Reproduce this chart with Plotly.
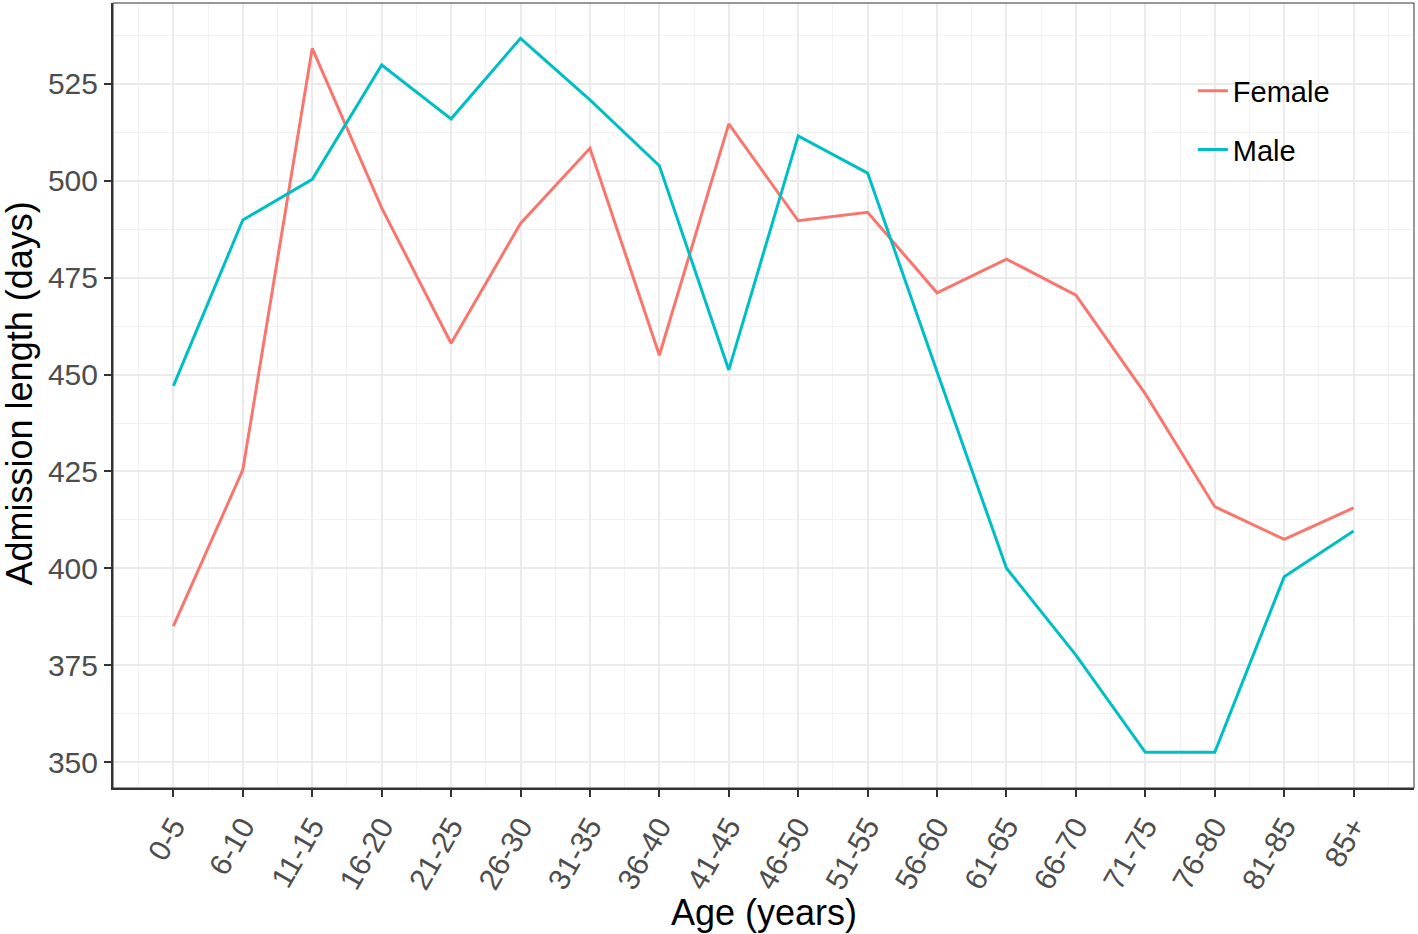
import plotly.graph_objects as go

ages = ["0-5", "6-10", "11-15", "16-20", "21-25", "26-30", "31-35", "36-40", "41-45",
        "46-50", "51-55", "56-60", "61-65", "66-70", "71-75", "76-80", "81-85", "85+"]
female = [385.1, 425.4, 534.2, 493.0, 458.1, 489.0, 508.4, 455.0, 514.7,
          489.7, 491.9, 471.1, 479.8, 470.5, 445.0, 415.9, 407.5, 415.6]
male = [447.1, 489.9, 500.4, 529.9, 516.0, 536.8, 520.9, 503.9, 451.2,
        511.6, 502.0, 450.7, 400.0, 377.6, 352.5, 352.5, 397.8, 409.6]
y_ticks = [350, 375, 400, 425, 450, 475, 500, 525]

pos = list(range(len(ages)))
FONT = "Liberation Sans, Arial, sans-serif"

fig = go.Figure()
fig.add_trace(go.Scatter(x=pos, y=female, mode="lines", name="Female",
                         line=dict(color="#F8766D", width=3), legendgroup="f"))
fig.add_trace(go.Scatter(x=pos, y=male, mode="lines", name="Male",
                         line=dict(color="#00BFC4", width=3), legendgroup="m"))

fig.update_layout(
    width=1418, height=934,
    margin=dict(l=113, r=4, t=3, b=146),
    paper_bgcolor="white", plot_bgcolor="white",
    font=dict(family=FONT, color="black"),
    showlegend=True,
    legend=dict(x=0.830, y=0.9205, xanchor="left", yanchor="top",
                bgcolor="rgba(0,0,0,0)", font=dict(size=29, color="black"),
                tracegroupgap=18),
    xaxis=dict(
        range=[-0.87, len(ages) - 1 + 0.87],
        tickmode="array", tickvals=pos, ticktext=ages, tickangle=-60,
        tickfont=dict(size=30, color="#4D4D4D"),
        showgrid=True, gridcolor="#EBEBEB", gridwidth=2,
        minor=dict(tick0=0.5, dtick=1, showgrid=True, gridcolor="#F2F2F2", gridwidth=1.2, ticks=""),
        ticks="outside", ticklen=7, tickwidth=2, tickcolor="#333333",
        showline=True, linecolor="#333333", linewidth=2,
        zeroline=False, automargin=False,
    ),
    yaxis=dict(
        range=[343.3, 545.9],
        tickmode="array", tickvals=y_ticks,
        tickfont=dict(size=30, color="#4D4D4D"),
        showgrid=True, gridcolor="#EBEBEB", gridwidth=2,
        minor=dict(tick0=337.5, dtick=25, showgrid=True, gridcolor="#F2F2F2", gridwidth=1.2, ticks=""),
        ticks="outside", ticklen=7, tickwidth=2, tickcolor="#333333",
        showline=True, linecolor="#333333", linewidth=2,
        zeroline=False, automargin=False,
    ),
    annotations=[
        dict(text="Age (years)", xref="paper", yref="paper", x=0.5004, y=-0.158,
             xanchor="center", yanchor="middle", showarrow=False,
             font=dict(size=36, color="black")),
        dict(text="Admission length (days)", xref="paper", yref="paper", x=-0.072, y=0.503,
             xanchor="center", yanchor="middle", showarrow=False, textangle=-90,
             font=dict(size=36, color="black")),
    ],
    shapes=[
        dict(type="rect", xref="paper", yref="paper", x0=0, x1=1, y0=0, y1=1,
             line=dict(color="#333333", width=1), layer="above"),
        dict(type="rect", xref="paper", yref="paper", x0=0.7955, x1=0.951, y0=0.753, y1=0.953,
             fillcolor="white", line=dict(width=0), layer="between"),
    ],
)

fig.write_html("out.html", config={"displayModeBar": False},
               post_script="document.body.style.margin='0px';document.body.style.overflow='hidden';")
